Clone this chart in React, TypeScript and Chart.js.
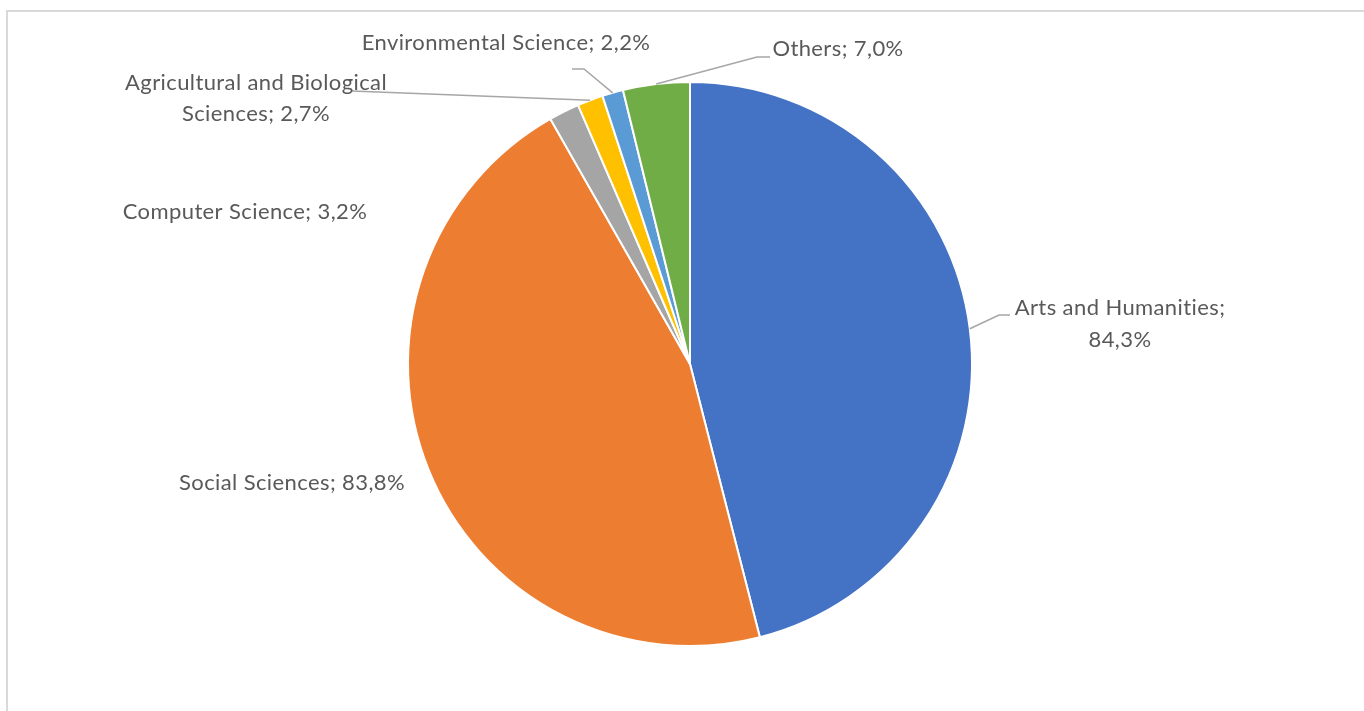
import React, { useEffect, useRef } from "react";
import { Chart, registerables } from "chart.js";

Chart.register(...registerables);

const categories = [
  "Arts and Humanities",
  "Social Sciences",
  "Computer Science",
  "Agricultural and Biological Sciences",
  "Environmental Science",
  "Others",
];
const shares = [84.3, 83.8, 3.2, 2.7, 2.2, 7.0];
const valueLabels = ["84,3%", "83,8%", "3,2%", "2,7%", "2,2%", "7,0%"];
const colors = ["#4472C4", "#ED7D31", "#A5A5A5", "#FFC000", "#5B9BD5", "#70AD47"];

// label layout: text lines, centre offsets (relative to pie centre), optional leader path
type LabelLayout = {
  lines: string[];
  dx: number;
  dy: number[];
  leader?: [number, number][];
};
const labelLayout: LabelLayout[] = [
  { lines: ["Arts and Humanities;", valueLabels[0]], dx: 430, dy: [-56, -24], leader: [[309, -49], [320, -49]] },
  { lines: ["Social Sciences; " + valueLabels[1]], dx: -398, dy: [119] },
  { lines: ["Computer Science; " + valueLabels[2]], dx: -445, dy: [-152] },
  { lines: ["Agricultural and Biological", "Sciences; " + valueLabels[3]], dx: -434, dy: [-281, -250], leader: [[-338, -273]] },
  { lines: ["Environmental Science; " + valueLabels[4]], dx: -184, dy: [-321], leader: [[-106, -295], [-118, -295]] },
  { lines: ["Others; " + valueLabels[5]], dx: 148, dy: [-315], leader: [[67, -307], [80, -307]] },
];

const FONT = "22px Lato";

const labelPlugin = {
  id: "pieLabels",
  afterDraw(chart: any) {
    const ctx = chart.ctx as CanvasRenderingContext2D;
    const meta = chart.getDatasetMeta(0);
    ctx.save();
    labelLayout.forEach((lab, i) => {
      const arc = meta.data[i] as any;
      if (!arc) return;
      const { x, y, startAngle, endAngle, outerRadius } = arc.getProps(
        ["x", "y", "startAngle", "endAngle", "outerRadius"],
        true
      );
      const mid = (startAngle + endAngle) / 2;
      if (lab.leader) {
        ctx.strokeStyle = "#A6A6A6";
        ctx.lineWidth = 1.5;
        ctx.beginPath();
        ctx.moveTo(x + Math.cos(mid) * outerRadius, y + Math.sin(mid) * outerRadius);
        lab.leader.forEach(([px, py]) => ctx.lineTo(x + px, y + py));
        ctx.stroke();
      }
      ctx.font = FONT;
      (ctx as any).letterSpacing = "0.4px";
      ctx.fillStyle = "#595959";
      ctx.textAlign = "center";
      ctx.textBaseline = "middle";
      lab.lines.forEach((t, k) => ctx.fillText(t, x + lab.dx, y + lab.dy[k]));
    });
    ctx.restore();
  },
};

export default function App() {
  const ref = useRef<HTMLCanvasElement>(null);
  useEffect(() => {
    document.body.style.margin = "0";
    document.body.style.overflow = "hidden";
    if (!ref.current) return;
    const chart = new Chart(ref.current, {
      type: "pie",
      data: {
        labels: categories,
        datasets: [
          {
            data: shares,
            backgroundColor: colors,
            borderColor: "#ffffff",
            borderWidth: 2,
            hoverOffset: 0,
          },
        ],
      },
      options: {
        animation: false,
        responsive: false,
        maintainAspectRatio: false,
        layout: { padding: { top: 81, bottom: 64, left: 100, right: 84 } },
        plugins: {
          legend: { display: false },
          tooltip: { enabled: false },
        },
        events: [],
      },
      plugins: [labelPlugin],
    });
    return () => chart.destroy();
  }, []);
  return (
    <div style={{ position: "relative", width: 1364, height: 711, overflow: "hidden", background: "#fff" }}>
      <div
        style={{
          position: "absolute",
          left: 6,
          top: 10,
          width: 1500,
          height: 900,
          border: "2px solid #d9d9d9",
          boxSizing: "border-box",
        }}
      />
      <canvas ref={ref} width={1364} height={711} style={{ position: "absolute", left: 0, top: 0 }} />
    </div>
  );
}
